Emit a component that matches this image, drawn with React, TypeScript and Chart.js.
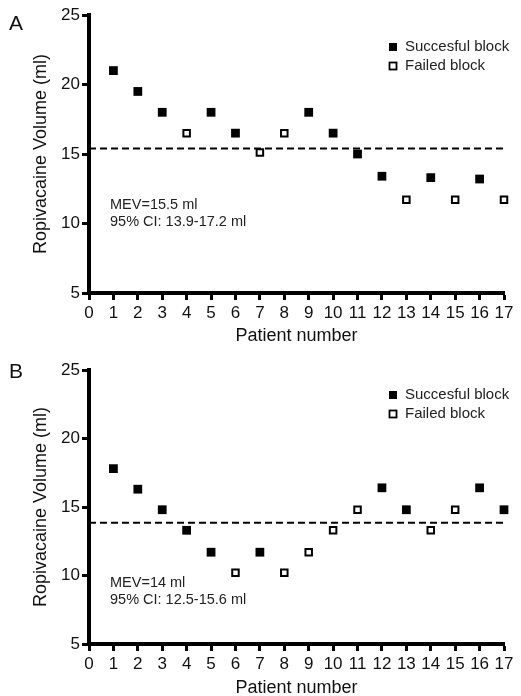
import React, { useEffect, useRef } from 'react';
import { Chart, registerables } from 'chart.js';

Chart.register(...registerables);

// ---- data ----
const patients = [1, 2, 3, 4, 5, 6, 7, 8, 9, 10, 11, 12, 13, 14, 15, 16, 17];
const volumesA = [21.0, 19.5, 18.0, 16.5, 18.0, 16.5, 15.1, 16.5, 18.0, 16.5, 15.0, 13.4, 11.7, 13.3, 11.7, 13.2, 11.7];
const outcomesA = ['S', 'S', 'S', 'F', 'S', 'S', 'F', 'F', 'S', 'S', 'S', 'S', 'F', 'S', 'F', 'S', 'F'];
const volumesB = [17.8, 16.3, 14.8, 13.3, 11.7, 10.2, 11.7, 10.2, 11.7, 13.3, 14.8, 16.4, 14.8, 13.3, 14.8, 16.4, 14.8];
const outcomesB = ['S', 'S', 'S', 'S', 'S', 'F', 'S', 'F', 'F', 'F', 'F', 'S', 'S', 'F', 'F', 'S', 'S'];
const mevLineA = 15.4;
const mevLineB = 13.85;
const xTicks = [0, 1, 2, 3, 4, 5, 6, 7, 8, 9, 10, 11, 12, 13, 14, 15, 16, 17];
const yTicks = [5, 10, 15, 20, 25];
const legendLabels = ['Succesful block', 'Failed block'];
const notesA = ['MEV=15.5 ml', '95% CI: 13.9-17.2 ml'];
const notesB = ['MEV=14 ml', '95% CI: 12.5-15.6 ml'];
const xTitle = 'Patient number';
const yTitle = 'Ropivacaine Volume (ml)';

const FONT = '"Liberation Sans", Arial, Helvetica, sans-serif';
const INK = '#111';

const decorPlugin = {
  id: 'panelDecor',
  afterDraw(chart: any, _args: any, opts: any) {
    const ctx = chart.ctx;
    ctx.save();
    // legend
    const lx = opts.legendX;
    const ly = opts.legendY;
    ctx.fillStyle = '#000';
    ctx.fillRect(lx - 4, ly[0] - 4, 8, 8);
    ctx.fillStyle = '#fff';
    ctx.fillRect(lx - 3.5, ly[1] - 3.5, 7, 7);
    ctx.strokeStyle = '#000';
    ctx.lineWidth = 1.8;
    ctx.strokeRect(lx - 3.5, ly[1] - 3.5, 7, 7);
    ctx.fillStyle = '#222';
    ctx.font = `15px ${FONT}`;
    ctx.textBaseline = 'middle';
    ctx.textAlign = 'left';
    legendLabels.forEach((t, i) => ctx.fillText(t, lx + 12, ly[i]));
    // notes
    ctx.font = `14.5px ${FONT}`;
    (opts.notes as string[]).forEach((t, i) => ctx.fillText(t, opts.noteX, opts.noteY + i * 17));
    ctx.restore();
  },
};

interface PanelGeom {
  padTop: number;
  xAxisH: number;
  xTitlePad: number;
  noteY: number;
}

function makeConfig(volumes: number[], outcomes: string[], mev: number, notes: string[], g: PanelGeom) {
  const all = patients.map((p, i) => ({ x: p, y: volumes[i], o: outcomes[i] }));
  const success = all.filter((d) => d.o === 'S').map((d) => ({ x: d.x, y: d.y }));
  const failed = all.filter((d) => d.o === 'F').map((d) => ({ x: d.x, y: d.y }));
  return {
    type: 'scatter',
    data: {
      datasets: [
        {
          label: legendLabels[0],
          data: success,
          pointStyle: 'rect',
          pointRadius: 6.2,
          backgroundColor: '#000',
          borderColor: '#000',
          borderWidth: 0,
          clip: false,
        },
        {
          label: legendLabels[1],
          data: failed,
          pointStyle: 'rect',
          pointRadius: 4.6,
          backgroundColor: '#fff',
          borderColor: '#000',
          borderWidth: 2,
          clip: false,
        },
        {
          label: 'MEV',
          data: [
            { x: xTicks[0], y: mev },
            { x: xTicks[xTicks.length - 1], y: mev },
          ],
          showLine: true,
          borderDash: [7, 4],
          borderWidth: 2,
          borderColor: '#000',
          pointRadius: 0,
        },
      ],
    },
    options: {
      animation: false,
      responsive: false,
      maintainAspectRatio: false,
      layout: { padding: { left: 0, right: 17, top: g.padTop, bottom: 0 } },
      plugins: {
        legend: { display: false },
        tooltip: { enabled: false },
        panelDecor: {
          legendX: 393,
          legendY: [47, 66],
          notes,
          noteX: 110,
          noteY: g.noteY,
        },
      },
      scales: {
        x: {
          type: 'linear',
          min: xTicks[0],
          max: xTicks[xTicks.length - 1],
          afterBuildTicks: (s: any) => {
            s.ticks = xTicks.map((v) => ({ value: v }));
          },
          afterFit: (s: any) => {
            s.height = g.xAxisH;
          },
          ticks: {
            autoSkip: false,
            maxRotation: 0,
            color: INK,
            padding: 3,
            font: { family: FONT, size: 17 },
          },
          grid: {
            drawOnChartArea: false,
            drawTicks: true,
            tickLength: 7,
            tickWidth: 3,
            tickColor: '#000',
          },
          border: { display: true, color: '#000', width: 4 },
          title: {
            display: true,
            text: xTitle,
            color: INK,
            font: { family: FONT, size: 18, lineHeight: 0.9 },
            padding: { top: 0, bottom: g.xTitlePad },
          },
        },
        y: {
          type: 'linear',
          min: yTicks[0],
          max: yTicks[yTicks.length - 1],
          afterBuildTicks: (s: any) => {
            s.ticks = yTicks.map((v) => ({ value: v }));
          },
          afterFit: (s: any) => {
            s.width = 89;
          },
          ticks: {
            color: INK,
            padding: 2,
            font: { family: FONT, size: 17 },
          },
          grid: {
            drawOnChartArea: false,
            drawTicks: true,
            tickLength: 7,
            tickWidth: 3,
            tickColor: '#000',
          },
          border: { display: true, color: '#000', width: 4 },
          title: {
            display: true,
            text: yTitle,
            color: INK,
            font: { family: FONT, size: 18, lineHeight: 1 },
            padding: { top: 32, bottom: 0 },
          },
        },
      },
    },
    plugins: [decorPlugin],
  };
}

function Panel({ cfg, top, label }: { cfg: any; top: number; label: string }) {
  const ref = useRef<HTMLCanvasElement>(null);
  useEffect(() => {
    if (!ref.current) return;
    const chart = new Chart(ref.current, cfg);
    return () => chart.destroy();
  }, [cfg]);
  return (
    <div style={{ position: 'absolute', left: 0, top, width: 521, height: 348 }}>
      <canvas ref={ref} width={521} height={348} style={{ display: 'block', width: 521, height: 348 }} />
      <div
        style={{
          position: 'absolute',
          left: 9,
          top: 12,
          fontFamily: FONT,
          fontSize: 21,
          lineHeight: 1,
          color: INK,
        }}
      >
        {label}
      </div>
    </div>
  );
}

const cfgA = makeConfig(volumesA, outcomesA, mevLineA, notesA, { padTop: 15, xAxisH: 55, xTitlePad: 4, noteY: 205 });
const cfgB = makeConfig(volumesB, outcomesB, mevLineB, notesB, { padTop: 22, xAxisH: 52, xTitlePad: 0, noteY: 235 });

export default function App() {
  return (
    <div style={{ position: 'absolute', left: 0, top: 0, width: 521, height: 696, background: '#fff', overflow: 'hidden' }}>
      <Panel cfg={cfgA} top={0} label="A" />
      <Panel cfg={cfgB} top={348} label="B" />
    </div>
  );
}
